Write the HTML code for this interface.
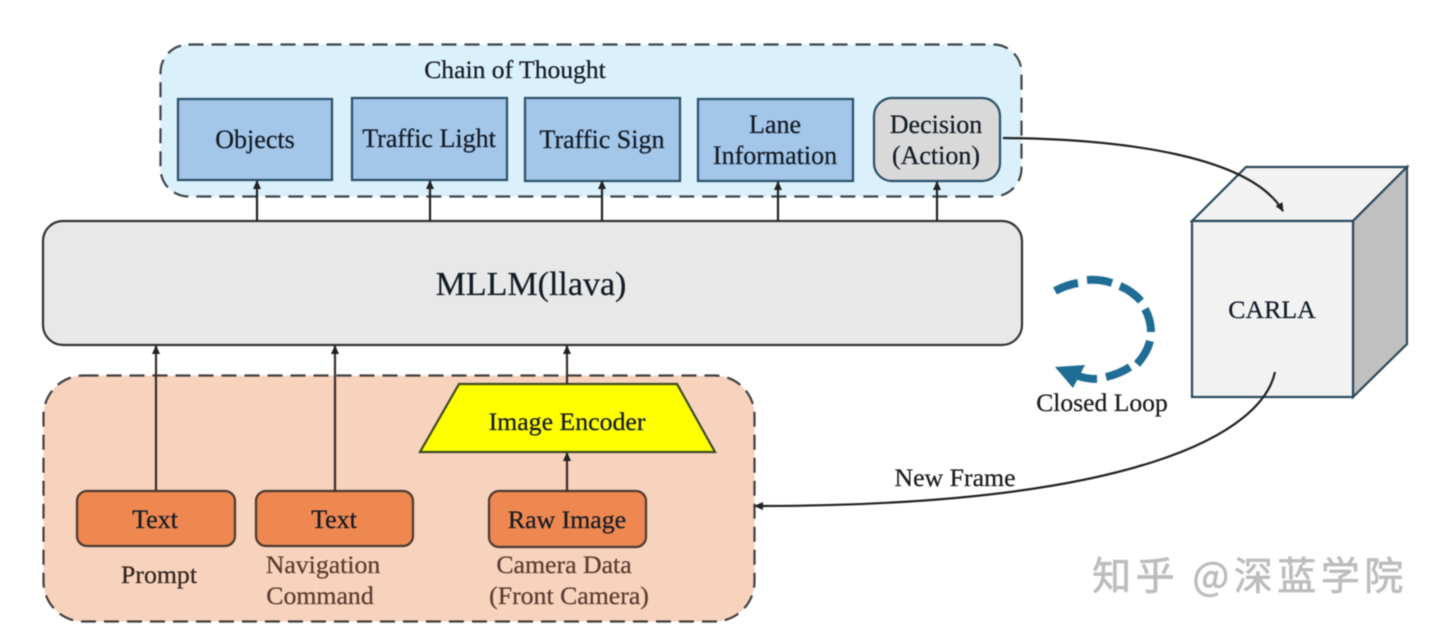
<!DOCTYPE html>
<html>
<head>
<meta charset="utf-8">
<style>
html,body{margin:0;padding:0;background:#fff;width:1440px;height:632px;overflow:hidden}
svg{display:block;filter:blur(.5px)}
text{font-family:"Liberation Serif","Noto Serif CJK SC",serif;text-anchor:middle;fill:#141c26;stroke:#141c26;stroke-width:.25px}
</style>
</head>
<body>
<svg width="1440" height="632" viewBox="0 0 1440 632" xmlns="http://www.w3.org/2000/svg">
<defs>
<marker id="a" markerWidth="9" markerHeight="9" refX="8" refY="4.500" orient="auto" markerUnits="userSpaceOnUse"><path d="M0 .5L9 4.500L0 8.500Z" fill="#222"/></marker>
</defs>
<rect width="1440" height="632" fill="#fff"/>

<!-- Chain of Thought group -->
<rect x="160.500" y="44.500" width="861" height="152" rx="28" fill="#daf0fb" stroke="#3f4549" stroke-width="2.200" stroke-dasharray="15 8"/>
<text x="515" y="78" font-size="25.600">Chain of Thought</text>
<g fill="#a3c6e9" stroke="#2c5068" stroke-width="2.200">
<rect x="178" y="99" width="154" height="81"/>
<rect x="352" y="98" width="155" height="82"/>
<rect x="525" y="98" width="155" height="83"/>
<rect x="698" y="99" width="155" height="82"/>
</g>
<rect x="874" y="98" width="126" height="83" rx="18" fill="#d9d9d9" stroke="#2c5068" stroke-width="2.200"/>
<text x="255" y="148" font-size="26">Objects</text>
<text x="429" y="147" font-size="26">Traffic Light</text>
<text x="602" y="148" font-size="26">Traffic Sign</text>
<text x="775" y="133" font-size="26">Lane</text>
<text x="775" y="164" font-size="26">Information</text>
<text x="936" y="133" font-size="26">Decision</text>
<text x="936" y="164" font-size="26">(Action)</text>

<!-- MLLM -->
<rect x="43" y="221" width="979" height="124" rx="20" fill="#e8e8e8" stroke="#333" stroke-width="2.200"/>
<text x="531" y="295" font-size="34">MLLM(llava)</text>

<!-- Up arrows to CoT -->
<g stroke="#222" stroke-width="2.200" fill="none">
<line x1="257" y1="221" x2="257" y2="181" marker-end="url(#a)"/>
<line x1="430" y1="221" x2="430" y2="181" marker-end="url(#a)"/>
<line x1="602" y1="221" x2="602" y2="181" marker-end="url(#a)"/>
<line x1="778" y1="221" x2="778" y2="182" marker-end="url(#a)"/>
<line x1="937" y1="221" x2="937" y2="182" marker-end="url(#a)"/>
</g>

<!-- Input group -->
<rect x="43.500" y="375.500" width="711" height="246" rx="40" fill="#f7d2bd" stroke="#423f3e" stroke-width="2.200" stroke-dasharray="15 8"/>
<g fill="#ee8750" stroke="#4a3a30" stroke-width="2.200">
<rect x="77" y="491" width="158" height="55" rx="10"/>
<rect x="256" y="491" width="157" height="55" rx="10"/>
<rect x="489" y="491" width="157" height="56" rx="10"/>
</g>
<polygon points="459,384 677,384 715,452 420,452" fill="#ffff00" stroke="#3c4a24" stroke-width="2.200"/>

<g stroke="#3a2c28" stroke-width="2.200" fill="none">
<line x1="156" y1="491" x2="156" y2="346" marker-end="url(#a)"/>
<line x1="335" y1="491" x2="335" y2="346" marker-end="url(#a)"/>
<line x1="567" y1="384" x2="567" y2="346" marker-end="url(#a)"/>
<line x1="567" y1="491" x2="567" y2="453" marker-end="url(#a)"/>
</g>

<text x="155" y="528" font-size="26">Text</text>
<text x="334" y="528" font-size="26">Text</text>
<text x="567" y="528" font-size="25.800">Raw Image</text>
<text x="567" y="430" font-size="25.800">Image Encoder</text>
<text x="159" y="583" font-size="25.800" style="fill:#33261f;stroke:#33261f">Prompt</text>
<text x="323" y="573" font-size="25.800" style="fill:#5a3c30;stroke:#5a3c30">Navigation</text>
<text x="320" y="604" font-size="25.800" style="fill:#5a3c30;stroke:#5a3c30">Command</text>
<text x="564" y="573" font-size="25.800" style="fill:#5a3c30;stroke:#5a3c30">Camera Data</text>
<text x="569" y="604" font-size="25.800" style="fill:#5a3c30;stroke:#5a3c30">(Front Camera)</text>

<!-- Cube -->
<polygon points="1192,221 1246,167 1407,167 1353,221" fill="#f2f2f2" stroke="#2c4a5c" stroke-width="2.200"/>
<polygon points="1353,221 1407,167 1407,344 1353,397" fill="#c0c0c0" stroke="#2c4a5c" stroke-width="2.200"/>
<rect x="1192" y="221" width="161" height="176" fill="#f2f2f2" stroke="#2c4a5c" stroke-width="2.200"/>
<text x="1272" y="318" font-size="25.800">CARLA</text>

<!-- Curved connectors -->
<path d="M1003 138C1120 139 1250 155 1283 211" fill="none" stroke="#222" stroke-width="2.200" marker-end="url(#a)"/>
<path d="M1275 372C1262 432 1140 506 755 506" fill="none" stroke="#222" stroke-width="2.200" marker-end="url(#a)"/>
<text x="955" y="486" font-size="25.800" style="fill:#1c1c1c;stroke:#1c1c1c">New Frame</text>

<!-- Closed loop -->
<g fill="none" stroke="#1f6c94" stroke-width="8">
<path d="M1055 291Q1066 285 1078 283"/>
<path d="M1087 280Q1100 279 1112 283"/>
<path d="M1120 286Q1132 291 1141 301"/>
<path d="M1145 309Q1151 320 1151 332"/>
<path d="M1150 341Q1147 353 1137 364"/>
<path d="M1130 367Q1119 374 1106 377"/>
<path d="M1097 379Q1087 379 1078 376"/>
</g>
<polygon points="1055,367 1085,365 1073,388" fill="#1f6c94"/>
<text x="1102" y="411" font-size="25.600" style="fill:#1c1c1c;stroke:#1c1c1c">Closed Loop</text>

<!-- Watermark -->
<text x="1250" y="590" font-size="39" style="font-family:'Noto Sans CJK SC',sans-serif;fill:#bdbdbd;stroke:#bdbdbd;stroke-width:.7px;letter-spacing:4.500px" xml:space="preserve">知乎 @深蓝学院</text>
</svg>
</body>
</html>
